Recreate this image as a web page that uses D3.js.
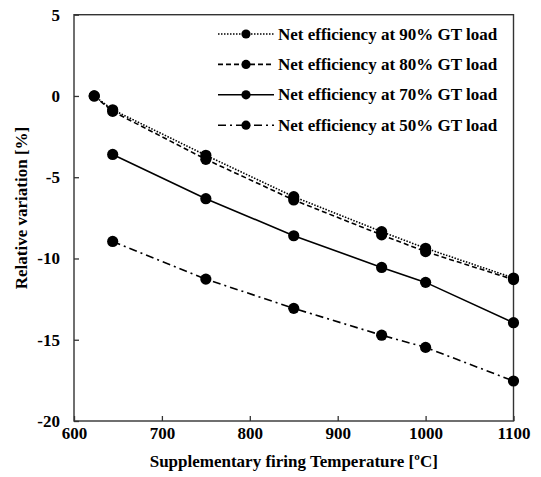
<!DOCTYPE html>
<html>
<head>
<meta charset="utf-8">
<script src="https://cdn.jsdelivr.net/npm/d3@7"></script>
<style>
  body { margin: 0; background: #fff; }
  text { font-family: "Liberation Serif", "Times New Roman", serif; font-weight: bold; fill: #000; }
</style>
</head>
<body>
<svg></svg>
<script>
var width = 541;
var height = 477;

var seriesNames = ["Net efficiency at 90% GT load", "Net efficiency at 80% GT load",
                   "Net efficiency at 70% GT load", "Net efficiency at 50% GT load"];
var temps90 = [623, 644, 750, 850, 950, 1000, 1100];
var vals90  = [0, -0.85, -3.65, -6.2, -8.35, -9.37, -11.2];
var temps80 = [623, 644, 750, 850, 950, 1000, 1100];
var vals80  = [0, -0.95, -3.9, -6.4, -8.55, -9.58, -11.3];
var temps70 = [644, 750, 850, 950, 1000, 1100];
var vals70  = [-3.6, -6.32, -8.6, -10.55, -11.47, -13.95];
var temps50 = [644, 750, 850, 950, 1000, 1100];
var vals50  = [-8.95, -11.27, -13.07, -14.72, -15.47, -17.54];
var xTicks = [600, 700, 800, 900, 1000, 1100];
var yTicks = [5, 0, -5, -10, -15, -20];

var dashes = ["1.5,1.5", "5,3", null, "8,4,2,4"];
var series = [
  { name: seriesNames[0], x: temps90, y: vals90 },
  { name: seriesNames[1], x: temps80, y: vals80 },
  { name: seriesNames[2], x: temps70, y: vals70 },
  { name: seriesNames[3], x: temps50, y: vals50 }
];

var plotLeft = 74, plotRight = 513.5, plotTop = 14.7, plotBottom = 421;

var xScale = d3.scaleLinear().domain([600, 1100]).range([plotLeft, plotRight]);
var yScale = d3.scaleLinear().domain([-20, 5]).range([plotBottom, plotTop]);

var svg = d3.select("svg").attr("width", width).attr("height", height);

function styleAxis(g) {
  g.select(".domain").remove();
  g.selectAll("line").attr("stroke", "#333").attr("stroke-width", 1.3);
  g.selectAll("text")
      .style("font-size", "17px")
      .style("font-family", "Liberation Serif")
      .style("font-weight", "bold")
      .attr("fill", "#000");
}

// x axis
svg.append("g")
    .attr("transform", "translate(0," + plotBottom + ")")
    .call(d3.axisBottom(xScale).tickValues(xTicks).tickFormat(d => String(d))
            .tickSizeInner(-5).tickSizeOuter(0).tickPadding(6))
    .call(styleAxis);

// y axis
svg.append("g")
    .attr("transform", "translate(" + plotLeft + ",0)")
    .call(d3.axisLeft(yScale).tickValues(yTicks).tickFormat(d => String(d))
            .tickSizeInner(-5).tickSizeOuter(0).tickPadding(14))
    .call(styleAxis);

// frame
svg.append("rect")
    .attr("x", plotLeft).attr("y", plotTop)
    .attr("width", plotRight - plotLeft).attr("height", plotBottom - plotTop)
    .attr("fill", "none").attr("stroke", "#333").attr("stroke-width", 1.4);

var line = d3.line().x(d => xScale(d[0])).y(d => yScale(d[1]));

series.forEach(function(s, i) {
  var pts = s.x.map((t, j) => [t, s.y[j]]);
  svg.append("path")
      .datum(pts)
      .attr("d", line)
      .attr("fill", "none")
      .attr("stroke", "#000")
      .attr("stroke-width", 1.6)
      .attr("stroke-dasharray", dashes[i]);
  svg.append("g").selectAll("circle")
      .data(pts)
      .enter()
      .append("circle")
        .attr("cx", d => xScale(d[0]))
        .attr("cy", d => yScale(d[1]))
        .attr("r", 5.6)
        .attr("fill", "#000");
});

// legend
var legend = svg.append("g");
series.forEach(function(s, i) {
  var ly = 34 + i * 30.4;
  legend.append("line")
      .attr("x1", 218).attr("x2", 274)
      .attr("y1", ly).attr("y2", ly)
      .attr("stroke", "#000").attr("stroke-width", 1.6)
      .attr("stroke-dasharray", dashes[i]);
  legend.append("circle")
      .attr("cx", 246).attr("cy", ly).attr("r", 4.6).attr("fill", "#000");
  legend.append("text")
      .attr("x", 278).attr("y", ly + 5.5)
      .style("font-size", "17px")
      .text(s.name);
});

// axis titles
svg.append("text")
    .attr("x", (plotLeft + plotRight) / 2)
    .attr("y", 467)
    .attr("text-anchor", "middle")
    .style("font-size", "17px")
    .text("Supplementary firing Temperature [ºC]");

svg.append("text")
    .attr("transform", "translate(27,208) rotate(-90)")
    .attr("text-anchor", "middle")
    .style("font-size", "17px")
    .text("Relative variation [%]");
</script>
</body>
</html>
